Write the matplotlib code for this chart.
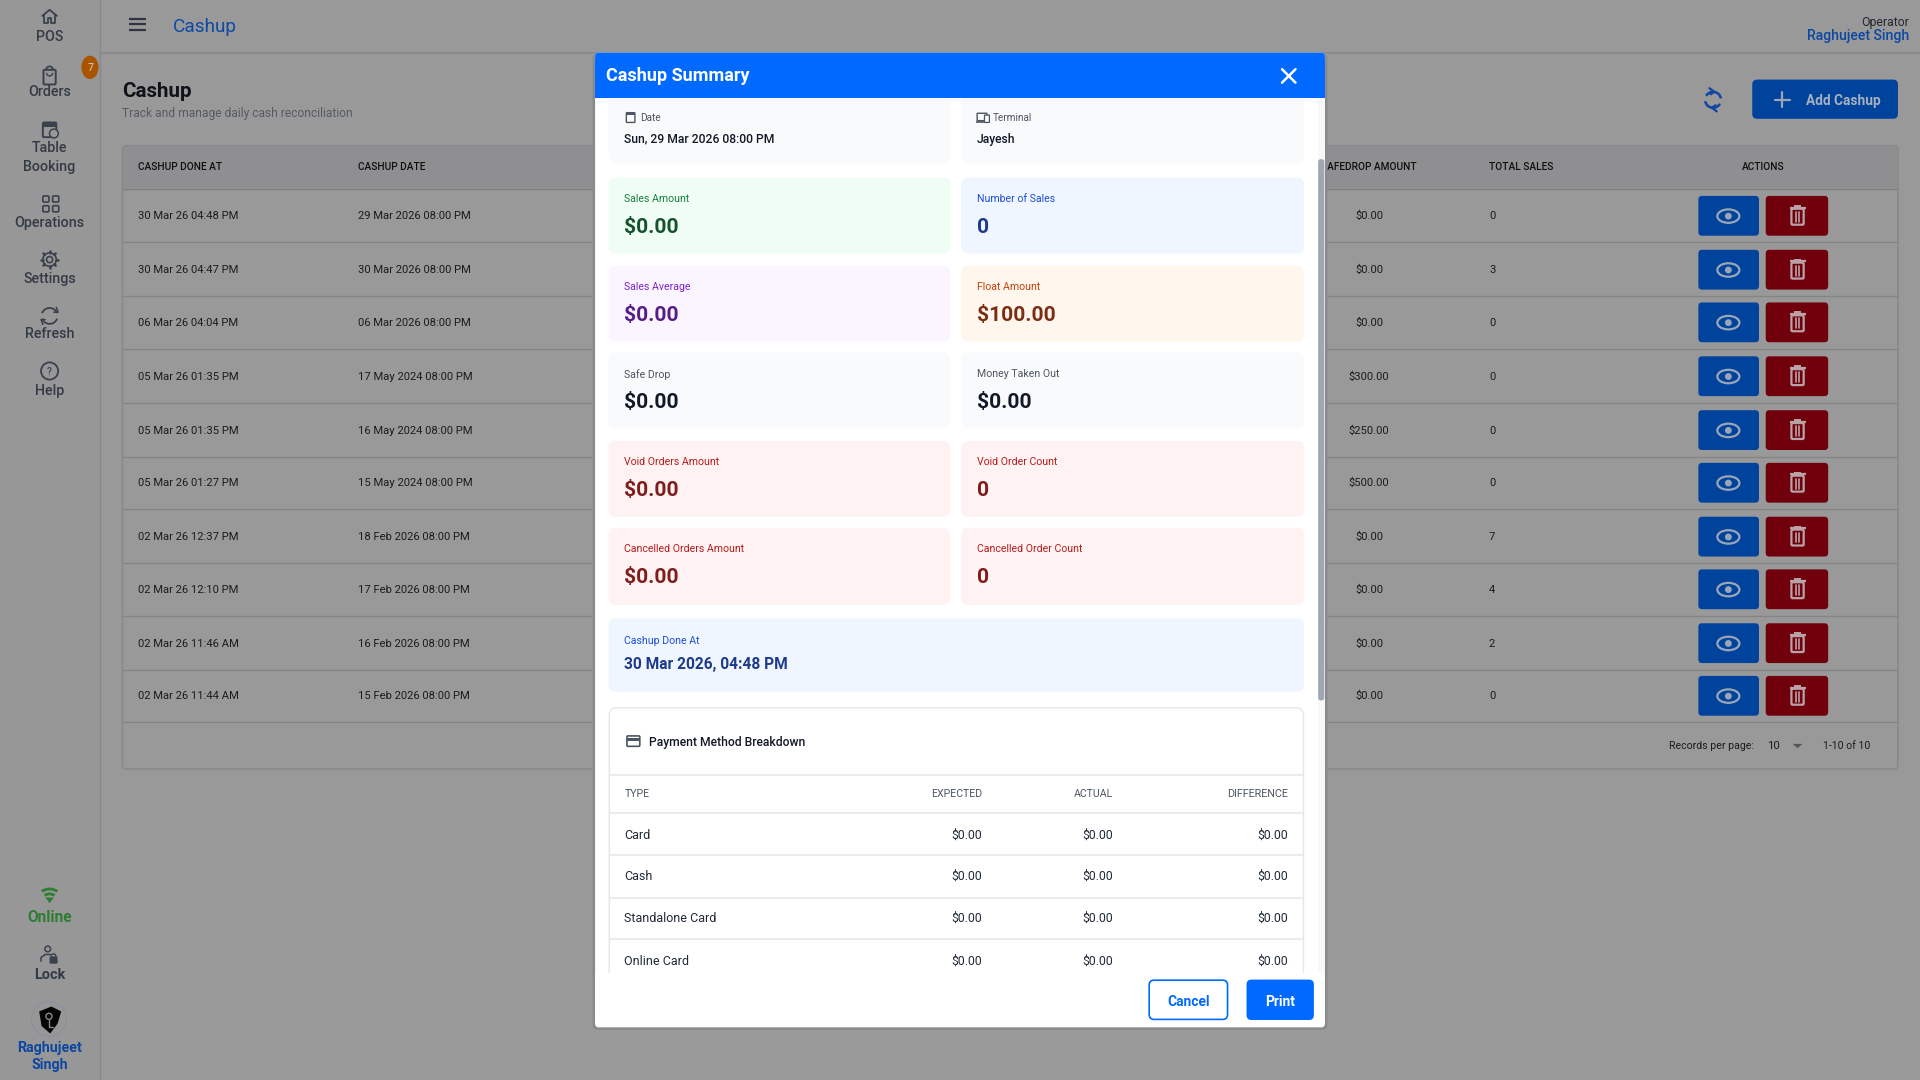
from matplotlib import pyplot as plt
from matplotlib.patches import FancyBboxPatch, Rectangle, Circle, Ellipse, Polygon, Arc
import numpy as np

FONT = "Roboto"

# main table
done_at = ["30 Mar 26 04:48 PM", "30 Mar 26 04:47 PM", "06 Mar 26 04:04 PM", "05 Mar 26 01:35 PM",
           "05 Mar 26 01:35 PM", "05 Mar 26 01:27 PM", "02 Mar 26 12:37 PM", "02 Mar 26 12:10 PM",
           "02 Mar 26 11:46 AM", "02 Mar 26 11:44 AM"]
cashup_dates = ["29 Mar 2026 08:00 PM", "30 Mar 2026 08:00 PM", "06 Mar 2026 08:00 PM", "17 May 2024 08:00 PM",
                "16 May 2024 08:00 PM", "15 May 2024 08:00 PM", "18 Feb 2026 08:00 PM", "17 Feb 2026 08:00 PM",
                "16 Feb 2026 08:00 PM", "15 Feb 2026 08:00 PM"]
safedrop_amounts = ["$0.00", "$0.00", "$0.00", "$300.00", "$250.00", "$500.00", "$0.00", "$0.00", "$0.00", "$0.00"]
total_sales = ["0", "3", "0", "0", "0", "0", "7", "4", "2", "0"]

# sidebar
nav_labels = ["POS", "Orders", "Table\nBooking", "Operations", "Settings", "Refresh", "Help"]

# summary cards, two per row
card_labels = ["Sales Amount", "Number of Sales", "Sales Average", "Float Amount", "Safe Drop", "Money Taken Out",
               "Void Orders Amount", "Void Order Count", "Cancelled Orders Amount", "Cancelled Order Count"]
card_values = ["$0.00", "0", "$0.00", "$100.00", "$0.00", "$0.00", "$0.00", "0", "$0.00", "0"]

# payment breakdown
pay_types = ["Card", "Cash", "Standalone Card", "Online Card"]
pay_expected = ["$0.00", "$0.00", "$0.00", "$0.00"]
pay_actual = ["$0.00", "$0.00", "$0.00", "$0.00"]
pay_difference = ["$0.00", "$0.00", "$0.00", "$0.00"]

row_ys = [176, 220, 263, 307, 351, 394, 438, 481, 525, 568]
row_lines = [198, 242, 285, 329, 373, 416, 460, 503, 547, 590]
card_tops = [145, 217, 288, 360, 431]
card_bottoms = [207, 279, 350, 422, 494]
card_bg = ["#f0fdf4", "#eff6ff", "#faf5ff", "#fff7ed", "#f9fafb", "#f9fafb", "#fef2f2", "#fef2f2", "#fef2f2", "#fef2f2"]
card_fg = ["#15803d", "#1d4ed8", "#7e22ce", "#c2410c", "#4b5563", "#4b5563", "#b91c1c", "#b91c1c", "#b91c1c", "#b91c1c"]
card_val = ["#14532d", "#1e3a8a", "#581c87", "#7c2d12", "#111827", "#111827", "#7f1d1d", "#7f1d1d", "#7f1d1d", "#7f1d1d"]

GREY_BG = "#999999"
LINE_BG = "#858585"
ICON = "#3b414c"
DIM_BLUE = "#00439c"
DARK_RED = "#6f000c"
BLUE = "#0069ff"

fig = plt.figure(figsize=(19.2, 10.8), dpi=100)
ax = fig.add_axes([0, 0, 1, 1])
ax.set_xlim(0, 1568)
ax.set_ylim(882, 0)
ax.axis("off")

order = [1]


def nz():
    order[0] += 1
    return order[0]


def txt(x, y, s, px, color="#1a1a1a", ha="left", weight="normal", linespacing=1.2):
    ax.text(x, y - 0.2, s, fontsize=px * 0.72, color=color, ha=ha, va="center_baseline", fontweight=weight,
            family=FONT, zorder=nz(), linespacing=linespacing)


def box(x0, y0, x1, y1, color, r=0, edge="none", lw=0):
    if r:
        p = FancyBboxPatch((x0 + r, y0 + r), x1 - x0 - 2 * r, y1 - y0 - 2 * r, boxstyle=f"round,pad={r},rounding_size={r}",
                           fc=color, ec=edge, lw=lw, zorder=nz(), mutation_aspect=1)
    else:
        p = Rectangle((x0, y0), x1 - x0, y1 - y0, fc=color, ec=edge, lw=lw, zorder=nz())
    ax.add_patch(p)


def seg(xs, ys, color, lw=1.0):
    ax.plot(xs, ys, color=color, lw=lw, zorder=nz(), solid_capstyle="round", solid_joinstyle="round")


def hline(x0, x1, y, color, lw=1.0):
    ax.plot([x0, x1], [y, y], color=color, lw=lw, zorder=nz(), solid_capstyle="butt")


def ring(x, y, r, color, lw=1.3, fill="none", ls="-"):
    ax.add_patch(Circle((x, y), r, fc=fill, ec=color, lw=lw, ls=ls, zorder=nz()))


def arc(x, y, r, a0, a1, color, lw=1.3):
    ax.add_patch(Arc((x, y), 2 * r, 2 * r, theta1=a0, theta2=a1, ec=color, lw=lw, zorder=nz()))


# --- background page
box(0, 0, 1568, 882, GREY_BG)
box(0, 0, 82, 882, "#979797")
seg([82, 82], [0, 882], "#888888", 1.0)
hline(82, 1568, 43, "#898989", 1.2)

NAV = 14.2
NAV_C = "#343a45"

# sidebar icons
seg([34.5, 40.5, 46.5], [13, 8, 13], ICON, 1.3)
seg([36, 36, 39, 39, 42, 42, 45, 45], [12, 18.5, 18.5, 15, 15, 18.5, 18.5, 12], ICON, 1.3)
txt(40.5, 29, nav_labels[0], NAV, NAV_C, "center", "medium")

box(35.5, 57, 45.5, 69, "none", 1, ICON, 1.4)
arc(40.5, 57, 2.8, 180, 360, ICON)
arc(40.5, 59.5, 2.5, 0, 180, ICON, 1.0)
txt(40.5, 74.5, nav_labels[1], NAV, NAV_C, "center", "medium")
ax.add_patch(Ellipse((73.5, 55), 14, 19, fc="#a85400", ec="none", zorder=nz()))
txt(73.5, 55, "7", 10.5, "#d9d0c6", "center")

box(35, 100, 46, 112, "none", 1, ICON, 1.4)
box(35, 100, 46, 104, ICON)
ring(44, 109, 3.6, ICON, 1.1, GREY_BG)
txt(40.5, 120, "Table", NAV, NAV_C, "center", "medium")
txt(40.5, 135, "Booking", NAV, NAV_C, "center", "medium")

for gx in (35, 43):
    for gy in (160, 168):
        box(gx, gy, gx + 5, gy + 5, "none", 1, ICON, 1.2)
txt(40.5, 181, nav_labels[3], NAV, NAV_C, "center", "medium")

ring(40.5, 212, 2.5, ICON, 1.2)
ring(40.5, 212, 5.5, ICON, 1.2)
for a in np.arange(0, 360, 45):
    seg([40.5 + 5.5 * np.cos(np.radians(a)), 40.5 + 7 * np.cos(np.radians(a))],
        [212 + 5.5 * np.sin(np.radians(a)), 212 + 7 * np.sin(np.radians(a))], ICON, 1.8)
txt(40.5, 226.5, nav_labels[4], NAV, NAV_C, "center", "medium")

arc(40.5, 258, 6.5, 200, 340, ICON)
arc(40.5, 258, 6.5, 20, 160, ICON)
seg([46, 47.5, 44], [251, 255, 255], ICON, 1.1)
seg([35, 33.5, 37], [265, 261, 261], ICON, 1.1)
txt(40.5, 272, nav_labels[5], NAV, NAV_C, "center", "medium")

ring(40.5, 303, 7, ICON, 1.3)
txt(40.5, 303, "?", 10, ICON, "center", "medium")
txt(40.5, 318, nav_labels[6], NAV, NAV_C, "center", "medium")

# wifi, lock, avatar
green = "#2e7d32"
arc(40.5, 737, 11, 235, 305, green, 2.0)
arc(40.5, 737, 7, 235, 305, green, 2.0)
ax.add_patch(Polygon([(37, 733), (44, 733), (40.5, 737.5)], fc=green, ec="none", zorder=nz()))
txt(40.5, 748, "Online", 15.5, green, "center", "bold")
ring(39, 775, 2.3, ICON, 1.1)
seg([33.5, 33.5, 37, 41], [785, 782, 779.5, 779.5], ICON, 1.1)
box(40.5, 781, 47, 787, ICON, 1)
arc(43.7, 781, 2, 180, 360, ICON, 1.0)
txt(40.5, 795, "Lock", 14.5, NAV_C, "center", "bold")
ring(40, 832, 14.2, "#7f8ea6", 0.5)
ax.add_patch(Polygon([(32, 826), (42, 822), (50, 826), (47, 836), (41, 844), (34, 838)], fc="#050505", ec="none", zorder=nz()))
arc(40, 830, 2.5, 0, 360, "#8a8a8a", 1.0)
seg([40, 40, 43], [833, 839, 839], "#8a8a8a", 1.0)
txt(40.5, 855, "Raghujeet", 14.2, "#0d47a1", "center", "bold")
txt(40.5, 869, "Singh", 14.2, "#0d47a1", "center", "bold")

# top bar
for hy in (15.5, 20, 24.5):
    hline(105, 119, hy, "#2f3540", 1.6)
txt(141.5, 20.5, "Cashup", 19, "#0d4aa6")
txt(1559, 17, "Operator", 12.3, "#23272e", "right")
txt(1559, 28.5, "Raghujeet Singh", 14, "#0d47a1", "right", "medium")

txt(99.5, 73.5, "Cashup", 20.5, "#0f1218", weight="bold")
txt(99.5, 92, "Track and manage daily cash reconciliation", 12, "#565b63")

ring_x, ring_y = 1399, 81.5
arc(ring_x, ring_y, 6.5, 30, 170, "#0d47a1", 1.8)
arc(ring_x, ring_y, 6.5, 210, 350, "#0d47a1", 1.8)
seg([ring_x - 3, ring_x + 1, ring_x - 2], [72, 75, 77], "#0d47a1", 1.6)
seg([ring_x + 3, ring_x - 1, ring_x + 2], [91, 88, 86], "#0d47a1", 1.6)

box(1431, 65, 1550, 97, DIM_BLUE, 4)
seg([1449.5, 1461.5], [81.5, 81.5], "#9aa6b8", 1.6)
seg([1455.5, 1455.5], [75.5, 87.5], "#9aa6b8", 1.6)
txt(1474.5, 81.5, "Add Cashup", 13.6, "#a8b1c0", weight="bold")

# main table
box(100, 119, 1550, 628, GREY_BG, 3, "#878787", 1.0)
box(100.5, 119.5, 1549.5, 154, "#8f8f91", 2)
hline(100, 1550, 154, "#7f7f7f")
for y in row_lines:
    hline(100, 1550, y, LINE_BG)
HEAD = 10.1
txt(113, 136, "CASHUP DONE AT", HEAD, "#101010", weight="medium")
txt(292, 136, "CASHUP DATE", HEAD, "#101010", weight="medium")
txt(1157, 136, "SAFEDROP AMOUNT", HEAD, "#101010", "right", "medium")
txt(1216, 136, "TOTAL SALES", HEAD, "#101010", weight="medium")
txt(1440, 136, "ACTIONS", HEAD, "#101010", "center", "medium")
for i, y in enumerate(row_ys):
    txt(113, y, done_at[i], 11.2, "#1c1c1c")
    txt(292, y, cashup_dates[i], 11.2, "#1c1c1c")
    txt(1118, y, safedrop_amounts[i], 11.2, "#1c1c1c", "center")
    txt(1216, y, total_sales[i], 11.2, "#1c1c1c")
    # view button
    box(1387, y - 16, 1436.5, y + 16.5, DIM_BLUE, 3)
    ax.add_patch(Ellipse((1411.5, y + 0.5), 18, 11, fc="none", ec="#9aa6b8", lw=1.6, zorder=nz()))
    ring(1411.5, y + 0.5, 2.8, "#9aa6b8", 0, "#9aa6b8")
    # delete button
    box(1442, y - 16, 1493, y + 16.5, DARK_RED, 3)
    box(1463, y - 5.5, 1473, y + 7.5, "none", 1, "#b9a3a6", 1.6)
    hline(1461.5, 1474.5, y - 6.5, "#b9a3a6", 1.6)
    hline(1465.5, 1470.5, y - 8, "#b9a3a6", 1.4)
    seg([1466.5, 1466.5], [y - 3, y + 5], "#b9a3a6", 1.2)
    seg([1469.5, 1469.5], [y - 3, y + 5], "#b9a3a6", 1.2)

txt(1363, 608.5, "Records per page:", 10.5, "#1c1c1c")
txt(1443, 609, "10", 11.5, "#1c1c1c")
ax.add_patch(Polygon([(1464, 607.5), (1472, 607.5), (1468, 611)], fc="#555555", ec="none", zorder=nz()))
txt(1489, 608.5, "1-10 of 10", 10.5, "#1c1c1c")

# --- modal
box(484, 44, 1084, 841, "#8a8a8a", 4)
box(486, 43, 1082, 839, "white", 3)
box(1076, 80, 1082, 795, "#f8f8f8")
box(1076.5, 130, 1081.5, 572, "#a0a7b4", 2)

# date and terminal cards (scrolled under the header)
box(497, 70, 776, 133.5, "#f9fafb", 6)
box(785, 70, 1065, 133.5, "#f9fafb", 6)
box(511.5, 92, 518.5, 100, "none", 0.5, "#4b5563", 1.0)
box(511.5, 92, 518.5, 94, "#4b5563")
txt(523, 96, "Date", 10, "#4b5563")
txt(509.5, 112.5, "Sun, 29 Mar 2026 08:00 PM", 12.1, "#111827", weight="medium")
box(798, 92.5, 806, 98.5, "none", 0.3, "#4b5563", 1.0)
hline(797, 804, 99.5, "#4b5563", 1.2)
box(804, 94, 808, 100, "white", 0.3, "#4b5563", 0.9)
txt(811, 96, "Terminal", 10, "#4b5563")
txt(797.5, 112.5, "Jayesh", 12.1, "#111827", weight="medium")

for i in range(10):
    row = i // 2
    x0, x1 = (497, 776) if i % 2 == 0 else (785, 1065)
    tx = x0 + 12.5
    box(x0, card_tops[row], x1, card_bottoms[row], card_bg[i], 6)
    txt(tx, card_tops[row] + 17, card_labels[i], 10.5, card_fg[i])
    txt(tx, card_tops[row] + 39, card_values[i], 21, card_val[i], weight="bold")

box(497, 505, 1065, 565, "#eff6ff", 6)
txt(509.5, 523, "Cashup Done At", 10.5, "#1d4ed8")
txt(509.5, 542, "30 Mar 2026, 04:48 PM", 15.5, "#1e3a8a", weight="bold")

# payment breakdown panel
box(497.5, 578, 1064.5, 830, "white", 6, "#e5e7eb", 1.0)
box(512, 601, 522.5, 609.5, "none", 0.8, "#4b5563", 1.2)
box(512, 603, 522.5, 605, "#4b5563")
txt(530, 605, "Payment Method Breakdown", 12.1, "#111827", weight="medium")
for y in (633, 664, 698, 733, 767):
    hline(498, 1064, y, "#e5e7eb", 1.1)
txt(510, 648, "TYPE", 10.5, "#4b5563")
txt(802, 648, "EXPECTED", 10.5, "#4b5563", "right")
txt(909, 648, "ACTUAL", 10.5, "#4b5563", "right")
txt(1052, 648, "DIFFERENCE", 10.8, "#4b5563", "right")
for i, y in enumerate((681, 715, 749, 784)):
    txt(510, y, pay_types[i], 12.5, "#1f2937")
    txt(802, y, pay_expected[i], 12.2, "#1f2937", "right")
    txt(909, y, pay_actual[i], 12.2, "#1f2937", "right")
    txt(1052, y, pay_difference[i], 12.2, "#1f2937", "right")

# header and footer sit over the scroll area
box(486, 43, 1082, 60, BLUE, 3)
box(486, 50, 1082, 80, BLUE)
txt(494.5, 61, "Cashup Summary", 18, "white", weight="bold")
seg([1047, 1058], [56.5, 67.5], "white", 1.8)
seg([1047, 1058], [67.5, 56.5], "white", 1.8)

box(486, 795, 1076, 830, "white")
box(486, 795, 1082, 838, "white", 3)
box(938.5, 800.5, 1002.5, 832.5, "white", 4, BLUE, 1.2)
txt(970.5, 817, "Cancel", 13.8, BLUE, "center", "bold")
box(1018, 800, 1073, 833, BLUE, 4)
txt(1045.5, 817, "Print", 13.8, "white", "center", "bold")

fig.savefig("out.png", dpi=100)
